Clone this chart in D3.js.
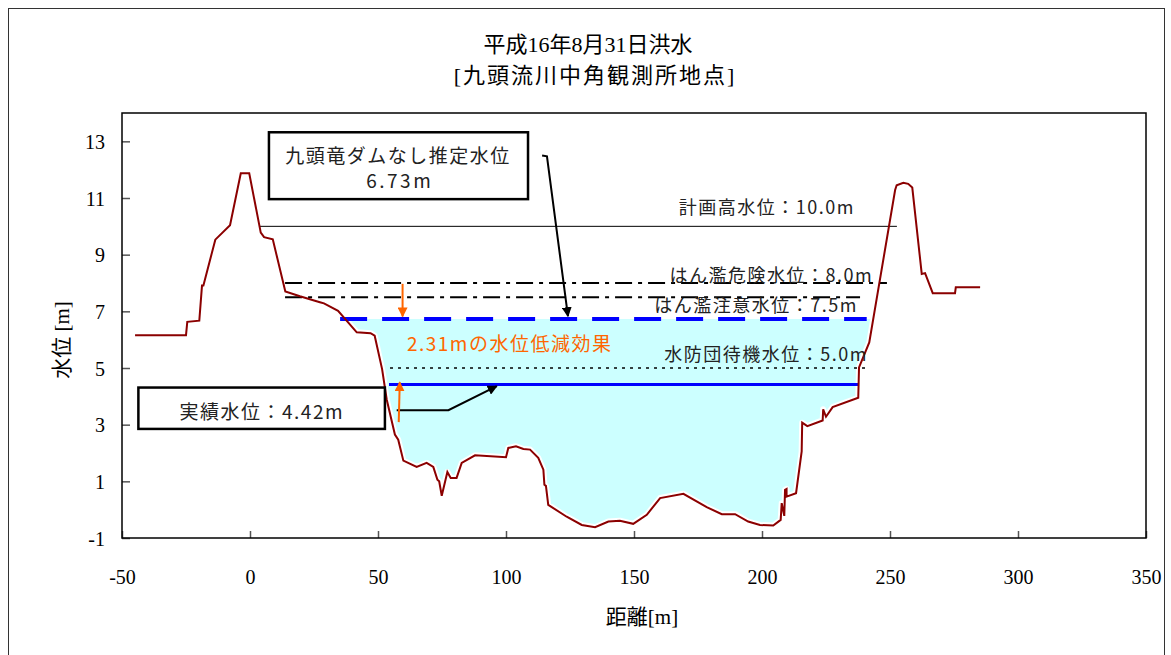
<!DOCTYPE html>
<html>
<head>
<meta charset="utf-8">
<script src="https://cdn.jsdelivr.net/npm/d3@7"></script>
<style>
  body { margin: 0; background: #fff; }
  .jp { font-family: "Noto Sans CJK JP", sans-serif; }
  .tick text { font-family: "Liberation Serif", serif; font-size: 20px; fill: #000; }
</style>
</head>
<body>
<div id="chart"></div>
<script>
// 横断面（距離[m], 標高[m]）
const profileX = [-44.9,-25.0,-24.5,-19.8,-18.75,-18.2,-13.55,-7.8,-3.6,-0.3,
  4.2,5.5,8.9,13.8,19.5,27.3,28.9,34.4,41.7,47.1,
  48.7,51.6,53.4,56.6,57.9,59.9,65.1,69.0,71.6,73.2,
  73.9,74.9,77.1,78.4,80.7,82.7,87.9,100.0,100.9,103.9,
  106.8,109.4,112.6,114.6,115.0,115.6,116.5,123.7,129.6,134.8,
  140.0,144.5,149.7,155.0,160.2,169.3,178.4,184.3,189.5,194.6,
  199.2,204.4,207.3,207.7,208.7,209.0,209.6,209.6,213.3,215.5,
  215.7,217.7,223.7,223.9,225.0,227.6,237.6,237.9,241.9,252.0,
  252.6,255.2,257.1,258.7,262.4,263.7,266.7,275.4,275.7,285.2];
const profileY = [6.16,6.16,6.63,6.67,7.91,7.91,9.53,10.04,11.87,11.87,
  9.78,9.62,9.54,7.70,7.53,7.32,7.28,7.02,6.26,6.23,
  6.14,4.96,3.89,2.65,2.47,1.73,1.51,1.65,1.51,1.06,
  1.00,0.49,1.33,1.12,1.12,1.65,1.92,1.85,2.18,2.24,
  2.14,2.12,1.83,1.41,0.88,0.84,0.17,-0.25,-0.54,-0.62,
  -0.42,-0.39,-0.50,-0.18,0.41,0.56,0.09,-0.16,-0.16,-0.42,
  -0.54,-0.56,-0.36,0.23,-0.22,0.70,0.73,0.46,0.58,2.06,
  3.07,2.95,3.15,3.54,3.28,3.62,3.95,5.02,5.90,11.28,
  11.45,11.54,11.50,11.37,8.32,8.35,7.64,7.64,7.85,7.85];

// 基準水位
const levelLabels = ["計画高水位：10.0m", "はん濫危険水位：8.0m", "はん濫注意水位：7.5m", "水防団待機水位：5.0m"];
const levelValues = [10.0, 8.0, 7.5, 5.0];
const levelFrom = [3.9, 13.7, 13.7, 54.7];
const levelTo = [252.7, 248.8, 238.3, 242.2];
const levelLabelY = [10.42, 8.05, 6.98, 5.25];

const estimatedLevel = 6.73;   // 九頭竜ダムなし推定水位
const actualLevel = 4.42;      // 実績水位
const reduction = 2.31;

const xTicks = [-50, 0, 50, 100, 150, 200, 250, 300, 350];
const yTicks = [-1, 1, 3, 5, 7, 9, 11, 13];

const W = 1171, H = 655;
const plot = { left: 122, right: 1146, top: 113, bottom: 538 };

const svg = d3.select("#chart").append("svg")
  .attr("width", W).attr("height", H);

svg.append("rect")
  .attr("x", 8.5).attr("y", 8.5).attr("width", 1156).attr("height", 660)
  .attr("fill", "#fff").attr("stroke", "#333").attr("stroke-width", 1);

const x = d3.scaleLinear().domain([-50, 350]).range([plot.left, plot.right]);
const y = d3.scaleLinear().domain([-1, 14]).range([plot.bottom, plot.top]);

// title
const title = svg.append("g").attr("class", "jp").attr("text-anchor", "middle");
title.append("text").attr("x", 588).attr("y", 52)
  .style("font-size", "22px")
  .style("font-family", "'Liberation Serif', 'Noto Sans CJK JP', serif")
  .text("平成16年8月31日洪水");
title.append("text").attr("x", 595).attr("y", 83)
  .style("font-size", "22px").style("letter-spacing", "2px")
  .style("font-family", "'Liberation Serif', 'Noto Sans CJK JP', serif")
  .text("[九頭流川中角観測所地点]");

const profile = d3.zip(profileX, profileY);

// 推定水位以下の湛水域
function crossing(a, b, lv) {
  const t = (lv - a[1]) / (b[1] - a[1]);
  return [a[0] + t * (b[0] - a[0]), lv];
}
let li = profile.findIndex((p, i) => i < profile.length - 1 && p[0] > 30 && p[1] >= estimatedLevel && profile[i + 1][1] < estimatedLevel);
let ri = profile.findIndex((p, i) => i < profile.length - 1 && p[0] > 200 && p[1] < estimatedLevel && profile[i + 1][1] >= estimatedLevel);
const pool = [crossing(profile[li], profile[li + 1], estimatedLevel)]
  .concat(profile.slice(li + 1, ri + 1))
  .concat([crossing(profile[ri], profile[ri + 1], estimatedLevel)]);

svg.append("path")
  .datum(pool)
  .attr("fill", "#ccffff")
  .attr("d", d3.area().x(d => x(d[0])).y0(d => y(d[1])).y1(y(estimatedLevel)));

const line = d3.line().x(d => x(d[0])).y(d => y(d[1]));
// white edge between the pool and the ground line
svg.append("path").datum(profile)
  .attr("fill", "none").attr("stroke", "#fff").attr("stroke-width", 6)
  .attr("stroke-linejoin", "round").attr("d", line);

// axes
const gx = svg.append("g").attr("transform", `translate(0,${plot.bottom})`)
  .call(d3.axisBottom(x).tickValues(xTicks).tickFormat(d => String(d))
    .tickSizeInner(-7).tickSizeOuter(0).tickPadding(32));
const gy = svg.append("g").attr("transform", `translate(${plot.left},0)`)
  .call(d3.axisLeft(y).tickValues(yTicks).tickFormat(d => String(d))
    .tickSizeInner(-8).tickSizeOuter(0).tickPadding(17));
[gx, gy].forEach(g => {
  g.select(".domain").remove();
  g.selectAll(".tick line").attr("stroke", "#555").attr("stroke-width", 1.5);
});
gy.selectAll(".tick text").attr("dy", "0.36em");

svg.append("rect")
  .attr("x", plot.left).attr("y", plot.top)
  .attr("width", plot.right - plot.left).attr("height", plot.bottom - plot.top)
  .attr("fill", "none").attr("stroke", "#000").attr("stroke-width", 1.5);

// reference level lines
const levelDash = [null, "17,6,4,6", "17,6,4,6", "3,5"];
const levelWidth = [1, 2, 2, 1.5];
levelValues.forEach((v, i) => {
  svg.append("line")
    .attr("x1", x(levelFrom[i])).attr("x2", x(levelTo[i]))
    .attr("y1", y(v)).attr("y2", y(v))
    .attr("stroke", "#000").attr("stroke-width", levelWidth[i])
    .attr("stroke-dasharray", levelDash[i]);
});

// water levels
svg.append("line")
  .attr("x1", x(35.2)).attr("x2", x(240.9))
  .attr("y1", y(estimatedLevel)).attr("y2", y(estimatedLevel))
  .attr("stroke", "#0000ff").attr("stroke-width", 4)
  .attr("stroke-dasharray", "27,15");
svg.append("line")
  .attr("x1", x(54.3)).attr("x2", x(237.9))
  .attr("y1", y(actualLevel)).attr("y2", y(actualLevel))
  .attr("stroke", "#0000ff").attr("stroke-width", 3);

// ground profile
svg.append("path").datum(profile)
  .attr("fill", "none").attr("stroke", "#8b0000").attr("stroke-width", 2)
  .attr("d", line);

// level labels
levelLabels.forEach((t, i) => {
  svg.append("text").attr("class", "jp")
    .attr("x", x(levelTo[i] - (i === 0 ? 16.4 : i === 1 ? 5.4 : 0.8)))
    .attr("y", y(levelLabelY[i]))
    .attr("text-anchor", "end")
    .style("font-size", "18px").style("letter-spacing", "1.5px").attr("fill", "#222")
    .text(t);
});

// markers
const defs = svg.append("defs");
[["blk", "#000"], ["org", "#ff6600"]].forEach(([id, c]) => {
  defs.append("marker").attr("id", id)
    .attr("viewBox", "0 0 10 10").attr("refX", 9).attr("refY", 5)
    .attr("markerWidth", 5).attr("markerHeight", 5).attr("orient", "auto")
    .append("path").attr("d", "M0,0L10,5L0,10z").attr("fill", c);
});

// callout boxes
function box(x0, x1, y0, y1) {
  svg.append("rect")
    .attr("x", x(x0)).attr("y", y(y0))
    .attr("width", x(x1) - x(x0)).attr("height", y(y1) - y(y0))
    .attr("fill", "#fff").attr("stroke", "#000").attr("stroke-width", 2.5);
}
box(7.4, 108.6, 13.32, 10.96);
svg.append("text").attr("class", "jp").attr("text-anchor", "middle")
  .attr("x", x(57.8)).attr("y", y(12.22))
  .style("font-size", "19px").style("letter-spacing", "1.5px").attr("fill", "#222")
  .text("九頭竜ダムなし推定水位");
svg.append("text").attr("class", "jp").attr("text-anchor", "middle")
  .attr("x", x(58.5)).attr("y", y(11.34))
  .style("font-size", "19px").style("letter-spacing", "2.5px").attr("fill", "#222")
  .text(estimatedLevel.toFixed(2) + "m");

box(-43.6, 52.7, 4.31, 2.85);
svg.append("text").attr("class", "jp").attr("text-anchor", "middle")
  .attr("x", x(4.6)).attr("y", y(3.2))
  .style("font-size", "19px").style("letter-spacing", "1.5px").attr("fill", "#222")
  .text("実績水位：" + actualLevel.toFixed(2) + "m");

// leader lines
svg.append("path")
  .datum([[114.1, 12.5], [116, 12.47], [124.2, 6.83]])
  .attr("fill", "none").attr("stroke", "#000").attr("stroke-width", 2)
  .attr("marker-end", "url(#blk)").attr("d", line);
svg.append("path")
  .datum([[57.3, 3.51], [77.5, 3.51], [96.4, 4.36]])
  .attr("fill", "none").attr("stroke", "#000").attr("stroke-width", 2)
  .attr("marker-end", "url(#blk)").attr("d", line);

// reduction arrows
svg.append("path")
  .datum([[59.6, 7.97], [59.6, 6.82]])
  .attr("fill", "none").attr("stroke", "#ff6600").attr("stroke-width", 2)
  .attr("marker-end", "url(#org)").attr("d", line);
svg.append("path")
  .datum([[58.1, 3.09], [58.5, 4.5]])
  .attr("fill", "none").attr("stroke", "#ff6600").attr("stroke-width", 2)
  .attr("marker-end", "url(#org)").attr("d", line);
svg.append("text").attr("class", "jp")
  .attr("x", x(61.3)).attr("y", y(5.6))
  .style("font-size", "19px").style("letter-spacing", "1.5px").attr("fill", "#ff6600")
  .text(reduction.toFixed(2) + "mの水位低減効果");

// axis titles
svg.append("text")
  .attr("transform", "translate(69,340) rotate(-90)")
  .attr("text-anchor", "middle")
  .style("font-family", "'Liberation Serif', 'Noto Sans CJK JP', serif")
  .style("font-size", "21px")
  .text("水位 [m]");
svg.append("text")
  .attr("x", 642).attr("y", 624)
  .attr("text-anchor", "middle")
  .style("font-family", "'Liberation Serif', 'Noto Sans CJK JP', serif")
  .style("font-size", "21px")
  .text("距離[m]");
</script>
</body>
</html>
